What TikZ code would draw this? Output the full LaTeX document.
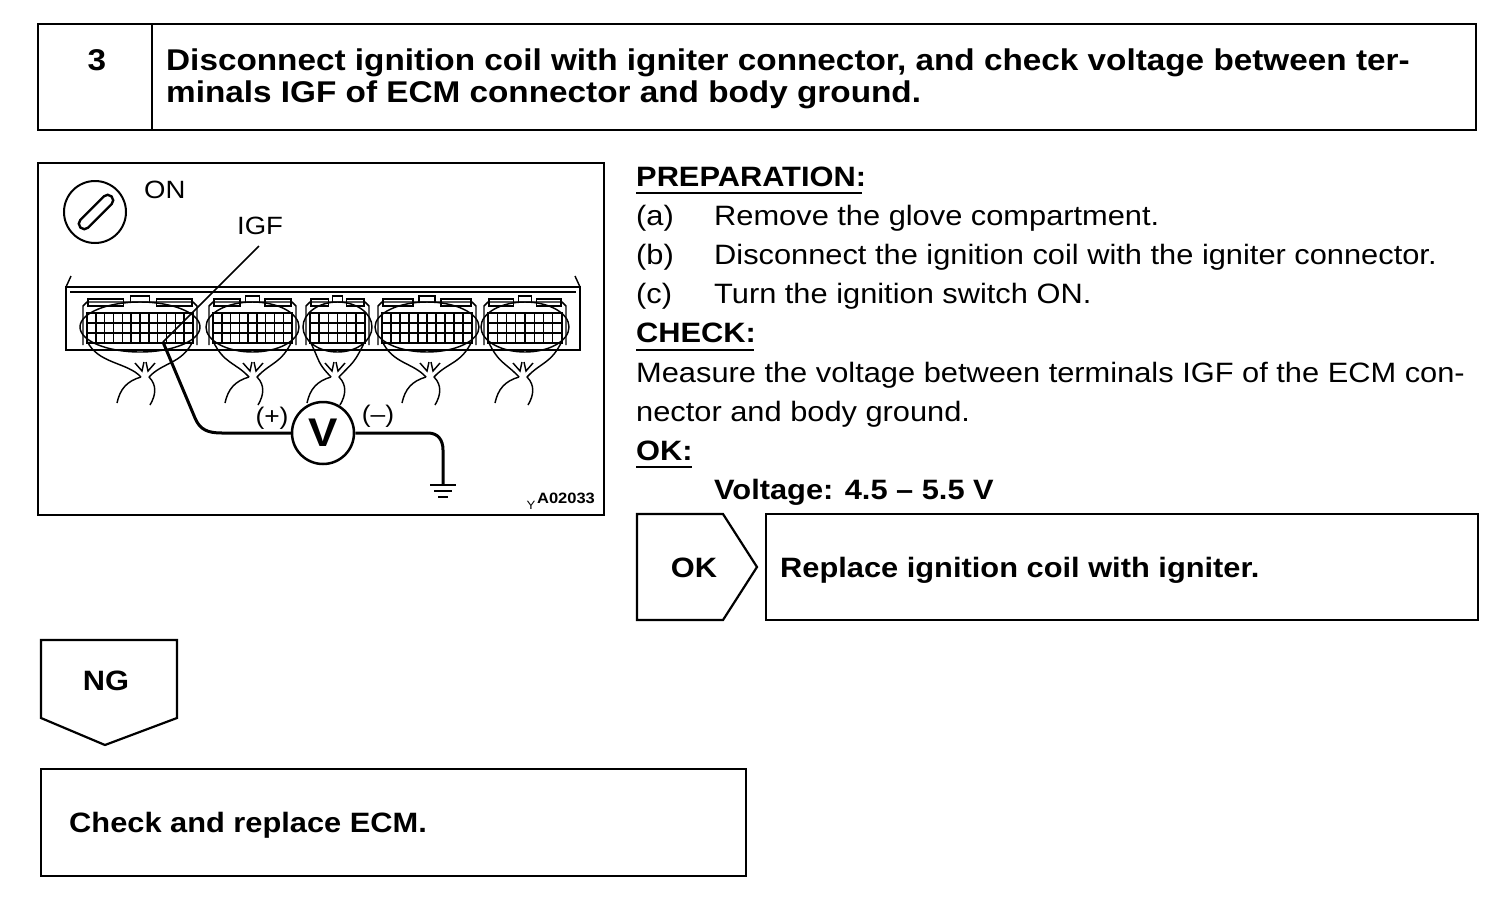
\documentclass[tikz,border=0pt]{standalone}
\usepackage{fontspec}
\setmainfont{Liberation Sans}[FakeStretch=1.1]
\newfontfamily\hdrfont{Liberation Sans}[FakeStretch=1.11]
\newcommand\ecmconn[4]{%
  \pgfmathsetmacro\ecW{#2-#1}%
  \pgfmathsetmacro\ecM{(#1+#2)/2}%
  \pgfmathtruncatemacro\ecC{#4-1}%
  \pgfmathsetmacro\ecS{(\ecW-10)/#4}%
  % housing with tabs
  \draw[ill] (#1+1,345) -- (#1+1,306) -- (#1+5,302) -- (#2-5,302) -- (#2-1,306) -- (#2-1,345);
  \draw[ill] (#1+6,306) rectangle (#1+0.36*\ecW,299);
  \draw[ill] (#1+0.42*\ecW,302) -- (#1+0.42*\ecW,296) -- (#1+0.58*\ecW,296) -- (#1+0.58*\ecW,302);
  \draw[ill] (#1+0.64*\ecW,306) rectangle (#2-6,299);
  % terminal grid
  \draw[ill] (#1+5,313) rectangle (#2-5,343);
  \draw[ill] (#1+5,323) -- (#2-5,323);
  \draw[ill] (#1+5,333) -- (#2-5,333);
  \foreach \i in {1,...,\ecC} {\draw[ill] (#1+5+\i*\ecS,313) -- (#1+5+\i*\ecS,343);}
  % oval cover
  \draw[ill] (\ecM,327) ellipse [x radius=\ecW/2+2, y radius=25];
  % harness
  \draw[ill] (#1+5,341) .. controls (#1+16,364) and (#3-18,362) .. (#3-4,377);
  \draw[ill] (#2-5,341) .. controls (#2-16,364) and (#3+18,362) .. (#3+4,377);
  \draw[ill] (#3-10,363) -- (#3-3,371) -- (#3-1,362);
  \draw[ill] (#3+1,362) -- (#3+3,371) -- (#3+10,363);
  \draw[ill] (#3-4,377) .. controls (#3-18,381) and (#3-25,389) .. (#3-28,403);
  \draw[ill] (#3+4,377) .. controls (#3+12,385) and (#3+11,395) .. (#3+5,405);
}
\begin{document}
\begin{tikzpicture}[x=1pt,y=-1pt,
  box/.style={line width=2.2pt},
  ill/.style={line width=1.45pt},
  probe/.style={line width=3pt},
  rtxt/.style={anchor=base west,inner sep=0pt,font=\fontsize{28}{34}\selectfont},
  btxt/.style={anchor=base west,inner sep=0pt,font=\fontsize{28}{34}\selectfont\bfseries},
  htxt/.style={anchor=base west,inner sep=0pt,font=\hdrfont\fontsize{30}{36}\selectfont\bfseries},
  ultxt/.style={line width=1.6pt}]
\useasboundingbox[fill=white] (0,0) rectangle (1504,916);

% ---------- header ----------
\draw[box] (38,24) rectangle (1476,130);
\draw[box] (152,24) -- (152,130);
\node[htxt,anchor=base] (num) at (97,70) {3};
\node[htxt] (t1) at (166,70) {Disconnect ignition coil with igniter connector, and check voltage between ter-};
\node[htxt] (t2) at (166,102) {minals IGF of ECM connector and body ground.};

% ---------- illustration ----------
\draw[box,line width=1.8pt] (38,163) rectangle (604,515);
% ignition key
\draw[line width=2pt] (95,212) circle [radius=31];
\draw[line width=2.4pt,rotate around={45:(96,212)},rounded corners=5.4pt] (74,206.5) rectangle (118,217.5);
\node[rtxt,font=\fontsize{25}{30}\selectfont] (on) at (144,198) {ON};
\node[rtxt,font=\fontsize{25}{30}\selectfont] (igf) at (237,234) {IGF};
% ECM body
\draw[ill,line width=1.7pt] (66,350) -- (66,287) -- (580,287) -- (580,350) -- cycle;
\draw[ill] (66,287) -- (71,276);
\draw[ill] (580,287) -- (575,276);
\draw[ill] (70,292) -- (576,292);
\ecmconn{82}{198}{145}{12}
\ecmconn{208}{297}{253}{9}
\ecmconn{305}{370}{335}{6}
\ecmconn{377}{477}{430}{10}
\ecmconn{483}{567}{523}{8}
% IGF leader
\coordinate (lead) at (259,246);
\coordinate (pin) at (163,342);
\draw[ill] (lead) -- (pin);
% voltmeter
\node[circle,draw,line width=2.5pt,minimum size=62pt,inner sep=0pt,font=\fontsize{40}{40}\selectfont\bfseries] (V) at (323,433) {V};
\draw[probe] (pin) -- (195,418) .. controls (200,430) and (208,433) .. (222,433) -- (V.west);
\coordinate (gnd) at (443,485);
\draw[probe] (V.east) -- (428,433) .. controls (438,433) and (443,440) .. (443,450) -- (gnd);
\draw[ill,line width=1.8pt] (430,485) -- (456,485);
\draw[ill,line width=1.8pt] (434,491) -- (452,491);
\draw[ill,line width=1.8pt] (438,497) -- (448,497);
\node[rtxt,anchor=base,font=\fontsize{24}{28}\selectfont] (plus) at (272,424) {(+)};
\node[rtxt,anchor=base,font=\fontsize{24}{28}\selectfont] (minus) at (378,422) {(–)};
\node[rtxt,anchor=base,font=\fontsize{12}{14}\selectfont] (yy) at (531,509) {Y};
\node[rtxt,anchor=base,font=\fontsize{15}{18}\selectfont\bfseries] (code) at (566,503) {A02033};

% ---------- right column ----------
\node[btxt] (prep) at (636,186) {PREPARATION:};
\draw[ultxt] (prep.base west)++(0,7) -- ++(226,0);
\node[rtxt] (la) at (636,225) {(a)};
\node[rtxt] (ta) at (714,225) {Remove the glove compartment.};
\node[rtxt] (lb) at (636,264) {(b)};
\node[rtxt] (tb) at (714,264) {Disconnect the ignition coil with the igniter connector.};
\node[rtxt] (lc) at (636,303) {(c)};
\node[rtxt] (tc) at (714,303) {Turn the ignition switch ON.};
\node[btxt] (chk) at (636,342) {CHECK:};
\draw[ultxt] (chk.base west)++(0,8) -- ++(118,0);
\node[rtxt] (m1) at (636,382) {Measure the voltage between terminals IGF of the ECM con-};
\node[rtxt] (m2) at (636,421) {nector and body ground.};
\node[btxt] (ok) at (636,460) {OK:};
\draw[ultxt] (ok.base west)++(0,7) -- ++(56,0);
\node[btxt] (volt) at (714,499) {Voltage: 4.5 – 5.5 V};

% ---------- OK branch ----------
\draw[box] (637,514) -- (723,514) -- (757,567) -- (723,620) -- (637,620) -- cycle;
\node[btxt,anchor=base] (okl) at (694,577) {OK};
\draw[box] (766,514) rectangle (1478,620);
\node[btxt] (rep) at (780,577) {Replace ignition coil with igniter.};

% ---------- NG branch ----------
\draw[box] (41,640) -- (177,640) -- (177,718) -- (105,745) -- (41,718) -- cycle;
\node[btxt,anchor=base] (ngl) at (106,690) {NG};
\draw[box] (41,769) rectangle (746,876);
\node[btxt] (ecm) at (69,832) {Check and replace ECM.};
\end{tikzpicture}
\end{document}
